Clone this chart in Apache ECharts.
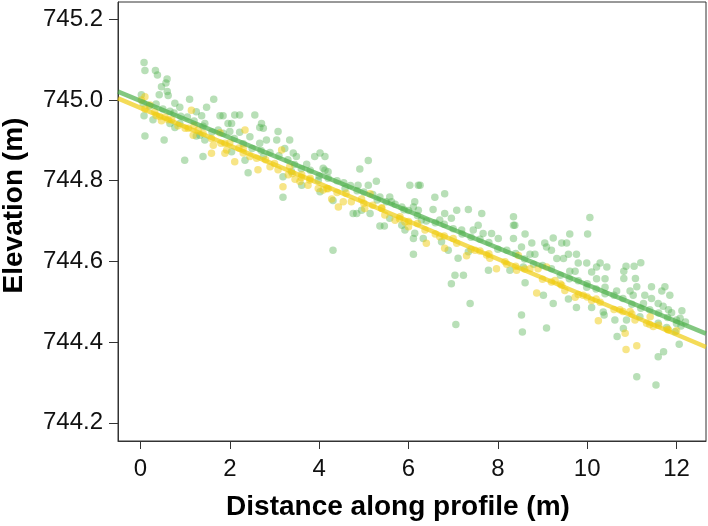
<!DOCTYPE html>
<html>
<head>
<meta charset="utf-8">
<script src="https://cdn.jsdelivr.net/npm/echarts@6/dist/echarts.min.js"></script>
<style>html,body{margin:0;padding:0;background:#fff}#c{width:708px;height:526px}</style>
</head>
<body>
<div id="c"></div>
<script>
var xTicks = [0, 2, 4, 6, 8, 10, 12];
var yTicks = [744.2, 744.4, 744.6, 744.8, 745.0, 745.2];
var xRange = [-0.503, 12.66];
var yRange = [744.155, 745.243];

var greenPoints = [
[0.08,745.093],[0.10,745.073],[0.335,745.073],[0.38,745.062],[0.596,745.052],[0.57,745.042],[0.47,745.033],[0.60,745.021],[0.42,745.013],[0.02,745.013],[0.62,745.011],[1.10,745.002],[1.64,745.002],[0.77,744.992],[0.06,744.992],[0.88,744.982],[1.48,744.982],[1.25,744.971],[0.66,744.972],[1.37,744.961],[1.78,744.961],[1.85,744.961],[0.08,744.961],[0.28,744.951],[0.66,744.942],[0.88,744.942],[1.44,744.942],[1.96,744.942],[1.74,744.926],[0.77,744.932],[0.10,744.911],[0.53,744.901],[1.25,744.911],[1.44,744.901],[1.33,744.913],[0.99,744.851],[1.40,744.860],
[2.11,744.963],[2.22,744.963],[2.56,744.963],[2.04,744.942],[2.71,744.942],[2.67,744.932],[2.75,744.930],[3.08,744.922],[2.00,744.922],[2.22,744.920],[2.45,744.909],[2.82,744.901],[3.05,744.901],[3.34,744.901],[2.67,744.893],[2.04,744.872],[3.23,744.880],[3.42,744.869],[3.49,744.860],[3.90,744.860],[4.02,744.869],[2.34,744.851],[2.75,744.860],[3.72,744.841],[4.09,744.831],[2.41,744.820],[3.19,744.810],[3.38,744.823],[3.61,744.789],[3.98,744.801],[3.19,744.759],[4.02,744.773],
[5.10,744.850],[4.91,744.829],[4.13,744.860],[4.13,744.826],[4.20,744.822],[5.28,744.799],[4.87,744.789],[5.10,744.789],[6.03,744.789],[6.22,744.789],[4.58,744.781],[5.36,744.760],[5.58,744.760],[6.14,744.748],[6.11,744.735],[6.22,744.727],[4.31,744.751],[4.76,744.719],[4.84,744.719],[4.95,744.727],[5.14,744.719],[5.58,744.707],[5.36,744.688],[5.46,744.688],[5.85,744.690],[5.92,744.678],[6.14,744.670],[6.11,744.657],[6.11,744.618],[4.31,744.628],[5.85,744.735],[5.62,744.748],
[6.26,744.789],[6.59,744.759],[6.81,744.768],[6.55,744.729],[6.81,744.719],[7.08,744.727],[7.34,744.729],[7.64,744.719],[6.96,744.707],[6.70,744.703],[6.29,744.703],[7.56,744.690],[7.45,744.678],[7.19,744.678],[7.67,744.669],[7.86,744.669],[8.01,744.657],[8.35,744.711],[8.35,744.690],[8.35,744.657],[6.33,744.657],[6.74,744.649],[6.89,744.628],[7.34,744.624],[7.11,744.608],[7.79,744.578],[8.27,744.578],[7.04,744.566],[7.23,744.566],[6.96,744.545],[7.38,744.496],[7.06,744.444],
[10.06,744.709],[8.38,744.690],[8.61,744.668],[9.24,744.658],[9.61,744.668],[10.01,744.668],[8.76,744.646],[9.05,744.646],[9.43,744.646],[9.54,744.646],[8.53,744.636],[9.09,744.636],[9.20,744.628],[8.72,744.618],[8.83,744.618],[9.58,744.618],[9.76,744.618],[9.32,744.607],[9.47,744.607],[9.80,744.596],[9.99,744.596],[10.29,744.596],[10.44,744.586],[10.21,744.586],[8.57,744.586],[9.61,744.576],[9.73,744.576],[10.10,744.574],[8.61,744.547],[10.21,744.557],[10.40,744.557],[9.99,744.536],[10.40,744.536],[9.02,744.516],[9.58,744.507],[9.24,744.496],[9.76,744.486],[10.10,744.486],[10.36,744.475],[10.38,744.467],[8.53,744.467],[9.09,744.435],[8.55,744.425],
[11.20,744.597],[10.87,744.588],[11.05,744.588],[10.82,744.576],[10.82,744.558],[11.08,744.558],[11.11,744.537],[11.44,744.537],[11.74,744.537],[11.67,744.527],[10.66,744.527],[10.96,744.527],[11.03,744.516],[11.29,744.516],[11.85,744.516],[11.44,744.508],[11.59,744.496],[11.26,744.496],[11.70,744.489],[11.82,744.480],[12.12,744.478],[11.89,744.473],[10.62,744.455],[10.88,744.455],[11.18,744.463],[11.59,744.447],[12.00,744.455],[12.08,744.459],[10.81,744.434],[11.78,744.436],[11.97,744.426],[10.67,744.414],[12.06,744.395],[11.71,744.376],[11.59,744.364],[11.11,744.314],[11.54,744.294],
[0.2,744.985],[0.5,744.978],[0.9,744.960],[1.2,744.948],[1.6,744.921],[2.1,744.905],[2.5,744.880],[2.9,744.870],[3.3,744.852],[3.6,744.830],[4.0,744.812],[4.4,744.800],[4.7,744.788],[5.0,744.772],[5.3,744.752],[5.7,744.742],[6.0,744.726],[6.4,744.700],[6.8,744.692],[7.2,744.668],[7.6,744.655],[8.0,744.630],[8.4,744.620],[8.8,744.593],[9.2,744.582],[9.6,744.557],[10.0,744.545],[10.4,744.520],[10.8,744.508],[11.2,744.484],[11.6,744.472],[12.0,744.446],[12.2,744.450],
[0.35,744.990],[0.75,744.968],[1.05,744.958],[1.4,744.935],[1.85,744.918],[2.3,744.892],[2.7,744.875],[3.1,744.862],[3.45,744.840],[3.8,744.826],[4.2,744.806],[4.55,744.795],[4.85,744.775],[5.2,744.766],[5.5,744.748],[5.9,744.728],[6.2,744.714],[6.6,744.696],[7.0,744.681],[7.4,744.660],[7.8,744.647],[8.2,744.628],[8.6,744.606],[9.0,744.590],[9.4,744.566],[9.8,744.552],[10.2,744.532],[10.6,744.516],[11.0,744.494],[11.4,744.480],[11.8,744.461],[12.1,744.440]
];

var yellowPoints = [
[0.10,745.008],[0.02,745.000],[0.21,744.988],[0.32,744.971],[0.43,744.959],[0.47,744.949],[0.62,744.951],[0.84,744.936],[1.07,744.930],[1.14,744.975],[1.18,744.913],[1.29,744.926],[1.59,744.905],[1.63,744.888],[1.89,744.893],[1.93,744.876],[1.59,744.868],[1.89,744.868],[1.78,744.919],
[2.34,744.926],[2.11,744.847],[2.30,744.880],[2.30,744.869],[2.63,744.827],[2.45,744.860],[2.90,744.835],[3.08,744.827],[3.16,744.876],[3.34,744.835],[3.31,744.815],[3.46,744.804],[3.61,744.815],[3.57,744.798],[3.75,744.789],[3.19,744.785],[3.98,744.781],[4.09,744.777],[3.79,744.802],
[4.17,744.781],[4.43,744.735],[4.28,744.755],[4.54,744.748],[4.95,744.755],[5.14,744.768],[5.02,744.731],[5.40,744.731],[5.47,744.715],[5.70,744.702],[5.92,744.698],[6.00,744.686],[5.81,744.711],[4.72,744.748],
[6.40,744.645],[6.37,744.678],[6.70,744.661],[7.08,744.645],[7.30,744.614],[7.49,744.628],[7.75,744.616],[7.82,744.608],[7.97,744.582],[8.16,744.599],[6.81,744.633],
[8.46,744.615],[8.42,744.578],[8.72,744.582],[8.90,744.582],[9.09,744.586],[9.28,744.553],[9.43,744.541],[8.87,744.522],[9.50,744.528],[9.73,744.511],[9.91,744.516],[10.10,744.503],[10.29,744.499],[10.25,744.453],
[10.73,744.480],[10.96,744.476],[11.07,744.455],[11.33,744.447],[11.48,744.439],[11.41,744.463],[10.85,744.422],[10.87,744.382],[11.11,744.391],[11.82,744.430],
[0.1,744.978],[0.35,744.962],[0.7,744.951],[1.0,744.930],[1.4,744.918],[1.8,744.893],[2.2,744.881],[2.6,744.856],[3.0,744.843],[3.4,744.818],[3.8,744.806],[4.2,744.780],[4.6,744.769],[5.0,744.744],[5.4,744.733],[5.8,744.706],[6.2,744.694],[6.6,744.668],[7.0,744.657],[7.4,744.630],[7.8,744.619],[8.2,744.593],[8.6,744.581],[9.0,744.556],[9.4,744.544],[9.8,744.518],[10.2,744.507],[10.6,744.481],[11.0,744.470],[11.4,744.444],[11.8,744.432],
[0.55,744.958],[1.2,744.936],[2.0,744.894],[2.8,744.852],[3.6,744.808],[4.4,744.771],[5.2,744.739],[6.0,744.699],[6.8,744.663],[7.6,744.626],[8.4,744.588],[9.2,744.549],[10.0,744.512],[10.8,744.476],[11.6,744.442],[12.0,744.428]
];

var greenFit = [[-0.503, 745.021], [12.66, 744.421]];
var yellowFit = [[-0.503, 745.004], [12.66, 744.388]];

var chart = echarts.init(document.getElementById('c'), null, {renderer: 'canvas'});
var axisColor = '#333';
chart.setOption({
  animation: false,
  backgroundColor: '#fff',
  grid: {left: 118, right: 2, top: 2, bottom: 85, show: true, borderColor: axisColor, borderWidth: 1, containLabel: false, outerBoundsMode: 'none'},
  xAxis: {
    type: 'value', min: xRange[0], max: xRange[1],
    name: 'Distance along profile (m)', nameLocation: 'middle', nameGap: 52,
    nameTextStyle: {fontFamily: 'Liberation Sans', fontWeight: 'bold', fontSize: 28, color: '#000', padding: [0, 28, 0, 0]},
    axisLine: {show: true, onZero: false, lineStyle: {color: axisColor, width: 1}},
    axisTick: {show: true, length: 8, lineStyle: {color: axisColor}, customValues: xTicks},
    axisLabel: {fontFamily: 'Liberation Sans', fontSize: 24, color: '#111', margin: 16, customValues: xTicks, formatter: function(v){return String(v);}},
    splitLine: {show: false}
  },
  yAxis: {
    type: 'value', min: yRange[0], max: yRange[1],
    name: 'Elevation (m)', nameLocation: 'middle', nameGap: 90,
    nameTextStyle: {fontFamily: 'Liberation Sans', fontWeight: 'bold', fontSize: 28, color: '#000', padding: [0, 0, 0, 32]},
    axisLine: {show: true, onZero: false, lineStyle: {color: axisColor, width: 1}},
    axisTick: {show: true, length: 9, lineStyle: {color: axisColor}, customValues: yTicks},
    axisLabel: {fontFamily: 'Liberation Sans', fontSize: 24, color: '#111', margin: 15, customValues: yTicks, formatter: function(v){return v.toFixed(1);}},
    splitLine: {show: false}
  },
  series: [
    {type: 'scatter', data: greenPoints, symbolSize: 7.5, itemStyle: {color: '#4daf4a', opacity: 0.4}, z: 2},
    {type: 'scatter', data: yellowPoints, symbolSize: 7.5, itemStyle: {color: '#f0cc10', opacity: 0.5}, z: 3},
    {type: 'line', data: greenFit, showSymbol: false, symbol: 'none', lineStyle: {color: '#4daf4a', width: 4.5, opacity: 0.7}, z: 4},
    {type: 'line', data: yellowFit, showSymbol: false, symbol: 'none', lineStyle: {color: '#f0cc10', width: 4.5, opacity: 0.7}, z: 5}
  ]
});
</script>
</body>
</html>
